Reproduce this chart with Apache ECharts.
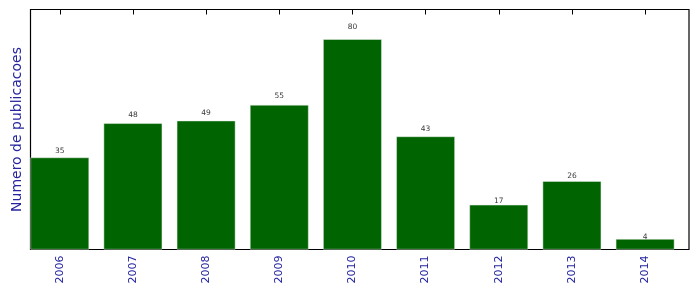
<!DOCTYPE html>
<html><head><meta charset="utf-8">
<script src="https://cdn.jsdelivr.net/npm/echarts@6/dist/echarts.min.js"></script>
<style>html,body{margin:0;padding:0;background:#fff}#c{width:699px;height:292px}</style>
</head><body><div id="c"></div>
<script>
const years = ['2006','2007','2008','2009','2010','2011','2012','2013','2014'];
const counts = [35, 48, 49, 55, 80, 43, 17, 26, 4];
const yLabel = 'Numero de publicacoes';

const chart = echarts.init(document.getElementById('c'));
const idx = years.map((_, i) => i);
chart.setOption({
  animation: false,
  textStyle: { fontFamily: 'DejaVu Sans' },
  grid: { left: 30.5, right: 10, top: 9.5, bottom: 42.5, containLabel: false, outerBoundsMode: 'none',
          show: true, borderColor: '#000', borderWidth: 1.2 },
  xAxis: [{
    type: 'value', min: -0.4, max: 8.6,
    axisLine: { show: false }, splitLine: { show: false },
    axisTick: { show: true, inside: true, length: 5, customValues: idx, lineStyle: { color: '#000' } },
    axisLabel: { show: true, customValues: idx, rotate: 90, color: '#2525a0', fontSize: 11, margin: 6,
                 formatter: v => years[Math.round(v)] }
  }, {
    type: 'value', min: -0.4, max: 8.6, position: 'top',
    axisLine: { show: false }, splitLine: { show: false },
    axisTick: { show: true, inside: true, length: 5, customValues: idx, lineStyle: { color: '#000' } },
    axisLabel: { show: false }
  }],
  yAxis: {
    type: 'value', min: 0, max: 91.3,
    axisLine: { show: false }, axisTick: { show: false }, axisLabel: { show: false }, splitLine: { show: false },
    name: yLabel, nameLocation: 'middle', nameGap: 6, nameRotate: 90,
    nameTextStyle: { color: '#2525a0', fontSize: 14 }
  },
  series: [{
    type: 'bar', xAxisIndex: 0, barWidth: 58.6,
    itemStyle: { color: '#006400', borderColor: '#e8f0e8', borderWidth: 0.5 },
    data: counts.map((v, i) => [i, v])
  }, {
    type: 'scatter', xAxisIndex: 0, symbolSize: 0, silent: true,
    label: { show: true, position: 'top', distance: -2.5, color: '#000', fontSize: 7.5,
             formatter: p => String(p.data[2]) },
    data: counts.map((v, i) => [i, v * 1.05, v])
  }]
});
</script>
</body></html>
